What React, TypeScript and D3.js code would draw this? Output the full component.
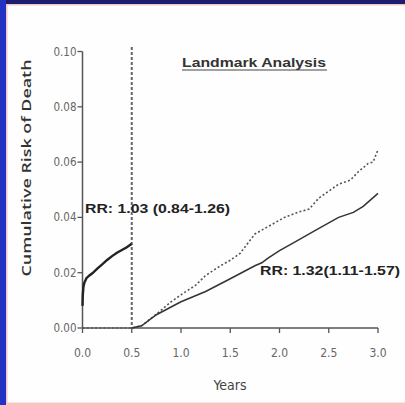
import React from "react";
import * as d3 from "d3";

// early (0 - 0.5 yr) cumulative risk, both groups overlap
const earlyT = [0, 0.003, 0.01, 0.02, 0.04, 0.07, 0.1, 0.15, 0.2, 0.25, 0.3, 0.35, 0.4, 0.45, 0.5];
const earlyY = [0.008, 0.012, 0.015, 0.0165, 0.018, 0.019, 0.0198, 0.0215, 0.023, 0.0246, 0.026, 0.0272, 0.0282, 0.0292, 0.0305];

// landmark, solid group
const solidT = [0.5, 0.6, 0.75, 1.0, 1.25, 1.5, 1.75, 1.82, 1.88, 2.0, 2.15, 2.4, 2.6, 2.75, 2.85, 3.0];
const solidY = [0, 0.0008, 0.0048, 0.0095, 0.0132, 0.0178, 0.0225, 0.0236, 0.0252, 0.028, 0.031, 0.036, 0.04, 0.0418, 0.044, 0.0487];

// landmark, dotted group
const dotT = [0, 0.5, 0.6, 0.75, 0.9, 1.0, 1.15, 1.25, 1.4, 1.5, 1.6, 1.75, 1.9, 2.05, 2.2, 2.3, 2.4, 2.6, 2.72, 2.8, 2.9, 2.95, 3.0];
const dotY = [0, 0, 0.0008, 0.005, 0.0095, 0.012, 0.0155, 0.019, 0.0225, 0.0245, 0.027, 0.034, 0.037, 0.04, 0.042, 0.043, 0.047, 0.052, 0.0535, 0.0565, 0.0595, 0.06, 0.0645];

const xTicks = ["0.0", "0.5", "1.0", "1.5", "2.0", "2.5", "3.0"];
const yTicks = ["0.00", "0.02", "0.04", "0.06", "0.08", "0.10"];

const W = 405;
const H = 405;

export default function App() {
  const x = d3.scaleLinear().domain([0, 3]).range([82.5, 378]);
  const y = d3.scaleLinear().domain([0, 0.1]).range([328, 51.5]);
  const line = d3
    .line<[number, number]>()
    .x((d) => x(d[0]))
    .y((d) => y(d[1]))
    .curve(d3.curveLinear);

  const early = line(earlyT.map((t, i) => [t, earlyY[i]]));
  const solid = line(solidT.map((t, i) => [t, solidY[i]]));
  const dotted = line(dotT.map((t, i) => [t, dotY[i]]));

  const tickFont = "'DejaVu Sans Condensed', 'Liberation Sans Narrow', sans-serif";
  const axisCol = "#555";

  return (
    <div style={{ position: "fixed", left: 0, top: 0, width: W, height: H }}>
      <svg width={W} height={H} style={{ display: "block" }}>
        <rect x={0} y={0} width={W} height={H} fill="#fefefe" />
        {/* frame */}
        <rect x={0} y={0} width={W} height={4} fill="#1d1d6e" />
        <rect x={0} y={0} width={6} height={H} fill="#2233c4" />
        <rect x={6} y={4} width={W - 6} height={1.5} fill="#f1c6cc" />
        <rect x={6} y={4} width={1.5} height={H - 4} fill="#f1c6cc" />
        <rect x={6} y={402.5} width={W - 6} height={2.5} fill="#f8c8c0" />

        {/* title */}
        <text
          x={254}
          y={67}
          textAnchor="middle"
          fontFamily="Liberation Sans, Arial, sans-serif"
          fontWeight="bold"
          fontSize={12.5}
          fill="#333"
          textLength={144}
          lengthAdjust="spacingAndGlyphs"
        >
          Landmark Analysis
        </text>
        <line x1={182} x2={327} y1={70} y2={70} stroke="#444" strokeWidth={1.2} />

        {/* y axis label */}
        <text
          transform={`translate(31,168) rotate(-90)`}
          textAnchor="middle"
          fontFamily="'Open Sans', 'DejaVu Sans', sans-serif"
          fontWeight="600"
          fontSize={13}
          fill="#333"
          textLength={217}
          lengthAdjust="spacingAndGlyphs"
        >
          Cumulative Risk of Death
        </text>

        {/* axes */}
        <line x1={x(0)} x2={x(0)} y1={y(0.1)} y2={y(0)} stroke={axisCol} strokeWidth={1.5} />
        <line x1={x(0)} x2={x(3)} y1={y(0)} y2={y(0)} stroke={axisCol} strokeWidth={1.5} />
        {yTicks.map((t) => (
          <g key={t}>
            <line x1={x(0) - 5} x2={x(0)} y1={y(+t)} y2={y(+t)} stroke={axisCol} strokeWidth={1.3} />
            <text
              x={x(0) - 6}
              y={y(+t)}
              dy="0.35em"
              textAnchor="end"
              fontFamily={tickFont}
              fontSize={11.5}
              fill="#666"
            >
              {t}
            </text>
          </g>
        ))}
        {xTicks.map((t) => (
          <g key={t}>
            <line x1={x(+t)} x2={x(+t)} y1={y(0)} y2={y(0) + 5} stroke={axisCol} strokeWidth={1.3} />
            <text
              x={x(+t)}
              y={357}
              textAnchor="middle"
              fontFamily={tickFont}
              fontSize={12}
              fill="#666"
            >
              {t}
            </text>
          </g>
        ))}
        <text
          x={230}
          y={390}
          textAnchor="middle"
          fontFamily={tickFont}
          fontSize={14}
          fill="#444"
        >
          Years
        </text>

        {/* landmark line */}
        <line
          x1={x(0.5)}
          x2={x(0.5)}
          y1={47}
          y2={y(0)}
          stroke="#666"
          strokeWidth={2}
          strokeDasharray="3,2"
        />

        {/* curves */}
        <path d={dotted ?? ""} fill="none" stroke="#555" strokeWidth={1.6} strokeDasharray="2,2.2" />
        <path d={solid ?? ""} fill="none" stroke="#333" strokeWidth={1.5} />
        <path d={early ?? ""} fill="none" stroke="#222" strokeWidth={2.4} />

        {/* RR labels */}
        <text
          x={85}
          y={213}
          fontFamily="Liberation Sans, Arial, sans-serif"
          fontWeight="bold"
          fontSize={12.5}
          fill="#222"
          textLength={145}
          lengthAdjust="spacingAndGlyphs"
        >
          RR: 1.03 (0.84-1.26)
        </text>
        <text
          x={260}
          y={275}
          fontFamily="Liberation Sans, Arial, sans-serif"
          fontWeight="bold"
          fontSize={12.5}
          fill="#222"
          textLength={140}
          lengthAdjust="spacingAndGlyphs"
        >
          RR: 1.32(1.11-1.57)
        </text>
      </svg>
    </div>
  );
}
